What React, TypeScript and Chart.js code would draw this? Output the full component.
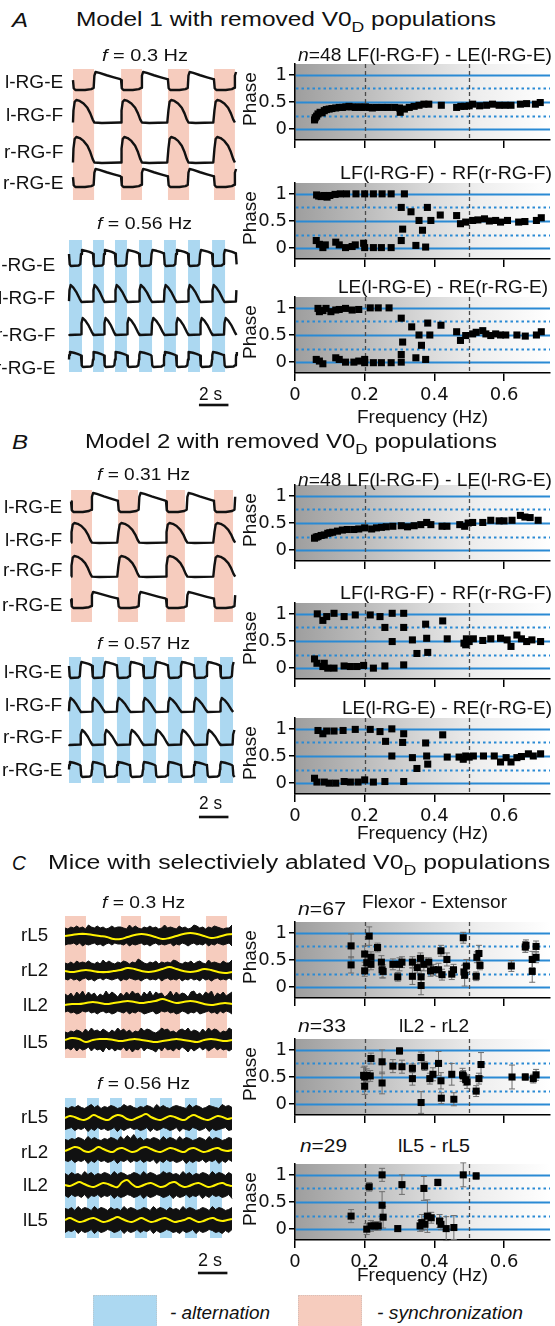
import React, { useEffect, useRef } from 'react';
import { Chart, registerables } from 'chart.js';

Chart.register(...registerables);

// ======================= DATA =======================
// phase-plot axes
const X_TICKS = [0, 0.2, 0.4, 0.6];
const Y_TICKS = [0, 0.5, 1];
const SOLID_LEVELS = [0, 0.5, 1];
const DOTTED_LEVELS = [0.25, 0.75];
const BOUNDARY_FREQS = [0.2, 0.5];
const FREQ_MAX = 0.732;
const PHASE_MIN = -0.2;
const PHASE_MAX = 1.2;

// ---- Panel A (Model 1), [frequency Hz, phase]
const A1_PTS = [[0.056,0.17],[0.058,0.21],[0.062,0.24],[0.066,0.28],[0.072,0.31],[0.078,0.3],[0.084,0.34],[0.09,0.36],[0.098,0.37],[0.106,0.38],[0.117,0.39],[0.127,0.4],[0.136,0.4],[0.146,0.41],[0.155,0.42],[0.164,0.41],[0.173,0.4],[0.183,0.41],[0.192,0.4],[0.202,0.41],[0.212,0.4],[0.222,0.39],[0.232,0.4],[0.25,0.4],[0.267,0.4],[0.286,0.4],[0.3,0.39],[0.302,0.31],[0.314,0.37],[0.328,0.4],[0.342,0.42],[0.356,0.44],[0.37,0.46],[0.384,0.46],[0.42,0.44],[0.464,0.4],[0.476,0.42],[0.487,0.42],[0.5,0.43],[0.51,0.46],[0.53,0.43],[0.55,0.44],[0.567,0.46],[0.586,0.44],[0.603,0.44],[0.62,0.44],[0.647,0.46],[0.665,0.47],[0.69,0.46],[0.704,0.49]];
const A2_PTS = [[0.062,0.98],[0.068,0.96],[0.075,0.95],[0.083,0.97],[0.092,0.94],[0.1,0.97],[0.115,0.99],[0.13,1.0],[0.148,1.0],[0.175,1.0],[0.2,1.0],[0.225,1.0],[0.25,1.0],[0.276,1.0],[0.314,1.0],
  [0.305,0.75],[0.309,0.35],[0.305,0.14],[0.333,0.67],[0.356,0.51],[0.347,0.05],[0.366,0.33],[0.38,0.75],[0.39,0.51],[0.375,0.02],[0.417,0.61],[0.464,0.6],[0.475,0.45],[0.49,0.48],[0.51,0.51],[0.525,0.52],[0.544,0.54],[0.558,0.5],[0.576,0.51],[0.59,0.48],[0.61,0.51],[0.642,0.48],[0.66,0.49],[0.693,0.51],[0.707,0.56],
  [0.061,0.14],[0.07,0.07],[0.08,0.01],[0.087,0.06],[0.117,0.11],[0.127,0.06],[0.145,0.01],[0.164,0.03],[0.173,0.06],[0.197,0.09],[0.2,0.01],[0.225,0.01],[0.248,0.01],[0.276,0.01]];
const A3_PTS = [[0.066,0.99],[0.07,0.93],[0.08,0.95],[0.089,0.99],[0.103,0.93],[0.117,0.96],[0.127,0.97],[0.145,0.99],[0.164,0.96],[0.183,0.97],[0.216,1.0],[0.239,1.0],[0.27,1.0],
  [0.305,0.81],[0.309,0.37],[0.305,0.14],[0.305,0.0],[0.335,0.65],[0.356,0.5],[0.347,0.08],[0.363,0.31],[0.381,0.72],[0.387,0.5],[0.375,0.05],[0.419,0.68],[0.464,0.56],[0.475,0.4],[0.49,0.49],[0.51,0.52],[0.52,0.55],[0.539,0.58],[0.548,0.52],[0.562,0.49],[0.576,0.52],[0.59,0.5],[0.605,0.5],[0.637,0.5],[0.661,0.48],[0.693,0.5],[0.707,0.56],
  [0.061,0.05],[0.07,0.02],[0.08,-0.03],[0.117,0.08],[0.127,0.05],[0.145,0.0],[0.169,0.0],[0.183,0.02],[0.2,0.05],[0.2,-0.01],[0.225,-0.01],[0.248,-0.01],[0.276,-0.01]];

// ---- Panel B (Model 2)
const B1_PTS = [[0.056,0.22],[0.061,0.24],[0.066,0.25],[0.075,0.27],[0.084,0.28],[0.094,0.31],[0.1,0.32],[0.108,0.33],[0.122,0.35],[0.136,0.37],[0.15,0.38],[0.169,0.38],[0.183,0.39],[0.2,0.41],[0.22,0.39],[0.234,0.41],[0.248,0.42],[0.262,0.43],[0.281,0.44],[0.305,0.45],[0.323,0.43],[0.342,0.45],[0.361,0.47],[0.378,0.51],[0.39,0.47],[0.422,0.44],[0.436,0.44],[0.473,0.47],[0.487,0.44],[0.497,0.5],[0.51,0.51],[0.539,0.51],[0.562,0.55],[0.586,0.54],[0.6,0.54],[0.623,0.55],[0.647,0.64],[0.66,0.61],[0.675,0.6],[0.698,0.55]];
const B2_PTS = [[0.064,1.0],[0.08,0.88],[0.091,0.95],[0.112,1.01],[0.141,0.95],[0.173,0.98],[0.216,0.98],[0.244,0.95],[0.279,1.01],[0.312,1.01],
  [0.258,0.75],[0.312,0.75],[0.279,0.49],[0.337,0.52],[0.35,0.27],[0.375,0.81],[0.378,0.55],[0.381,0.29],[0.424,0.87],[0.437,0.54],[0.485,0.46],[0.49,0.43],[0.492,0.54],[0.5,0.49],[0.512,0.54],[0.539,0.51],[0.562,0.54],[0.59,0.55],[0.609,0.52],[0.62,0.4],[0.637,0.61],[0.65,0.54],[0.665,0.49],[0.68,0.52],[0.705,0.49],
  [0.056,0.17],[0.063,0.09],[0.08,0.03],[0.084,0.09],[0.094,0.0],[0.112,0.0],[0.141,0.04],[0.159,0.03],[0.178,0.03],[0.197,0.05],[0.225,0.0],[0.258,0.04],[0.312,0.06]];
const B3_PTS = [[0.066,0.97],[0.08,0.91],[0.091,0.96],[0.112,0.96],[0.138,0.97],[0.173,0.99],[0.216,0.99],[0.244,0.95],[0.278,1.0],[0.312,0.91],
  [0.26,0.77],[0.309,0.75],[0.278,0.5],[0.337,0.47],[0.35,0.27],[0.375,0.74],[0.378,0.5],[0.381,0.35],[0.424,0.89],[0.437,0.48],[0.471,0.48],[0.483,0.44],[0.49,0.5],[0.5,0.48],[0.512,0.5],[0.541,0.5],[0.572,0.5],[0.59,0.39],[0.606,0.47],[0.62,0.39],[0.637,0.47],[0.65,0.49],[0.67,0.54],[0.684,0.5],[0.705,0.54],
  [0.056,0.09],[0.063,0.02],[0.084,0.02],[0.098,0.0],[0.117,0.0],[0.141,0.03],[0.159,0.02],[0.181,0.02],[0.2,0.06],[0.225,0.02],[0.258,0.03],[0.312,0.03]];

// ---- Panel C (mice), [frequency, phase, sd]
const C1_PTS = [[0.161,0.76,0.22],[0.161,0.41,0.15],[0.2,0.3,0.1],[0.2,0.61,0.15],[0.213,0.94,0.17],[0.206,0.45,0.15],[0.218,0.55,0.1],[0.218,0.42,0.1],[0.237,0.73,0.08],[0.248,0.46,0.12],[0.25,0.32,0.15],[0.253,0.29,0.12],[0.281,0.42,0.1],[0.295,0.19,0.08],[0.3,0.42,0.12],[0.307,0.46,0.1],[0.337,0.46,0.1],[0.337,0.2,0.15],[0.351,0.36,0.1],[0.36,0.53,0.1],[0.362,0.03,0.17],[0.362,0.19,0.12],[0.37,0.42,0.12],[0.384,0.46,0.08],[0.389,0.3,0.1],[0.398,0.32,0.1],[0.412,0.32,0.12],[0.419,0.67,0.1],[0.422,0.23,0.1],[0.436,0.51,0.12],[0.45,0.24,0.1],[0.455,0.32,0.1],[0.483,0.91,0.1],[0.485,0.28,0.12],[0.487,0.22,0.2],[0.492,0.39,0.12],[0.52,0.2,0.08],[0.522,0.55,0.1],[0.528,0.62,0.15],[0.531,0.4,0.08],[0.621,0.39,0.1],[0.661,0.74,0.1],[0.663,0.77,0.1],[0.681,0.51,0.15],[0.681,0.29,0.2],[0.692,0.75,0.1],[0.692,0.55,0.1]];
const C2_PTS = [[0.197,0.53,0.15],[0.206,0.53,0.12],[0.2,0.5,0.2],[0.2,0.33,0.15],[0.216,0.52,0.1],[0.218,0.84,0.1],[0.25,0.78,0.22],[0.25,0.39,0.2],[0.281,0.7,0.12],[0.3,0.98,0.06],[0.307,0.69,0.12],[0.337,0.66,0.08],[0.337,0.47,0.12],[0.362,0.86,0.1],[0.372,0.7,0.08],[0.362,0.03,0.2],[0.387,0.47,0.1],[0.396,0.55,0.12],[0.412,0.75,0.22],[0.419,0.43,0.15],[0.42,0.11,0.1],[0.45,0.55,0.2],[0.456,0.09,0.12],[0.481,0.54,0.12],[0.483,0.52,0.1],[0.49,0.45,0.1],[0.494,0.41,0.12],[0.52,0.24,0.1],[0.528,0.47,0.1],[0.534,0.73,0.22],[0.623,0.5,0.22],[0.661,0.5,0.06],[0.684,0.47,0.08],[0.692,0.54,0.1]];
const C3_PTS = [[0.161,0.24,0.12],[0.206,0.0,0.1],[0.213,0.78,0.08],[0.218,0.06,0.1],[0.229,0.06,0.08],[0.239,0.06,0.08],[0.25,1.0,0.12],[0.25,0.44,0.25],[0.253,0.22,0.2],[0.295,0.01,0.05],[0.307,0.82,0.18],[0.359,0.06,0.1],[0.364,0.12,0.15],[0.37,0.75,0.22],[0.373,0.09,0.1],[0.38,0.24,0.3],[0.391,0.21,0.1],[0.41,0.86,0.06],[0.415,0.15,0.12],[0.419,0.09,0.1],[0.434,0.01,0.22],[0.456,0.03,0.22],[0.483,1.0,0.22],[0.52,0.98,0.06]];

// ---- activity traces: band intervals (s) and one-cycle shapes [phase, level 0..1]
const A1_BANDS = [[0.88,2.31],[4.14,5.56],[7.32,8.75],[10.44,11.86]];
const A2_BANDS = [[0.61,1.49],[2.24,2.98],[3.73,4.54],[5.36,6.24],[7.05,7.86],[8.68,9.49],[10.31,11.19]];
const B1_BANDS = [[0.75,2.17],[3.93,5.29],[7.19,8.47],[10.44,11.73]];
const B2_BANDS = [[0.61,1.42],[2.17,2.98],[3.86,4.75],[5.63,6.51],[7.32,8.27],[9.08,9.97],[10.85,11.73]];
const C1_BANDS = [[0.34,1.76],[4.14,5.49],[6.78,8.14],[9.9,11.32]];
const C2_BANDS = [[0.34,1.08],[1.83,2.64],[3.39,4.2],[5.08,5.9],[6.78,7.59],[8.47,9.29],[10.17,10.98]];

const E_SYNC = [[0,0.55],[0.015,0.1],[0.05,0.0],[0.25,0.0],[0.38,0.05],[0.43,0.12],[0.445,0.8],[0.47,1.0],[0.55,0.95],[0.7,0.82],[0.85,0.7],[0.985,0.6]];
const F_SYNC = [[0,0.02],[0.01,0.55],[0.035,0.92],[0.07,1.0],[0.14,0.96],[0.22,0.85],[0.3,0.66],[0.36,0.42],[0.41,0.15],[0.445,0.02],[0.6,0.0],[0.985,0.02]];
const E_ALT_L = [[0,0.75],[0.03,0.1],[0.08,0.0],[0.4,0.03],[0.47,0.12],[0.5,0.75],[0.54,1.0],[0.7,0.95],[0.85,0.88],[0.97,0.8]];
const F_ALT_L = [[0,0.05],[0.02,0.7],[0.07,1.0],[0.18,0.85],[0.32,0.55],[0.44,0.2],[0.52,0.0],[0.98,0.03]];
const F_ALT_R = [[0,0.05],[0.02,0.0],[0.48,0.03],[0.5,0.05],[0.52,0.7],[0.57,1.0],[0.68,0.85],[0.82,0.55],[0.94,0.2]];
const E_ALT_R = [[0,0.5],[0.01,0.8],[0.04,1.0],[0.2,0.95],[0.35,0.88],[0.47,0.8],[0.5,0.75],[0.53,0.1],[0.58,0.0],[0.9,0.03],[0.97,0.12]];

// EMG envelopes (extra px above / below the trace core), and smoothed (yellow) offsets
const C1_UP = ['2132423153242312423321524213242312523214231254231324321225','2131423242131524213243132642132413232542132413421523214225','4251637263514273641526374516372645137263541673526471536246','2132431526342531426352413263542136452314536243152635413264'];
const C1_DN = ['3221314232132421312231423213242132321423124213231423123214','2313242132421312321423123242132314213231423132413242132313','2132431213242132431231423124321431213243124231432132413124','3241524315243614253415263415234625143524136253142531424353'];
const C1_YEL = [[0,1,2,2,1,0,-1,-3,-3,-1,1,2,1,-1,-3,-2,0,2,3,2,0,-2,-1,1,2],[0,-1,0,1,0,-1,-1,0,1,3,2,0,-1,0,2,4,2,0,-1,0,2,1,-1,-2,-1],[-1,0,0,1,2,1,0,1,2,3,2,1,2,3,5,3,1,2,3,2,0,-1,0,1,0],[0,2,1,-2,0,1,1,0,-1,0,1,0,-1,-2,-1,0,1,0,-1,-2,0,1,0,-1,0]];
const C2_UP = ['2132421352413243125342132431524213432152431243215342','2132431524213243152637241324315243152431243152431243','3142315241324315243124315243125342315241324315243142','3241524315243142315243124315243142315243124315243124'];
const C2_DN = ['3214231524132431524213243152431243152341243152432143','2314231524132431523142314231524132431524231423152413','2413241523142315243124315243124315243142315241324315','4231524315243124315243142315243124352431524312435241'];
const C2_YEL = [[0,2,1,-1,-2,0,3,1,-1,-2,1,3,2,-1,-2,0,2,4,1,-1,-2,0,2,1,-1,-2,1,3,1,-1,-2,0,2,1,-1,0],[-1,1,3,2,-1,-2,0,3,1,-1,-2,1,2,0,-2,-1,2,3,1,-1,-2,0,2,1,-1,-2,1,2,0,-2,-1,1,2,0,-1,0],[0,-1,1,3,1,-1,-2,0,2,1,-1,-2,3,5,1,-2,-1,1,2,0,-2,-1,2,3,0,-2,-1,1,2,0,-2,-1,1,2,0,-1],[0,2,0,-2,-1,1,2,0,-2,-1,1,3,1,-1,-2,0,2,0,-2,-1,1,2,0,-2,-1,0,2,0,-2,-1,1,2,0,-1,0,1]];
const SCALE_BAR_S = 2;

// ======================= STYLE / LAYOUT =======================
const FONT = '"Liberation Sans", Arial, Helvetica, sans-serif';
const TICK_FONT = { family: '"DejaVu Sans", sans-serif', size: 18 };
const BLUE = '#2a8ad4';
const BAND_BLUE = 'rgb(172,216,241)';
const BAND_PINK = 'rgb(246,204,190)';
const PX_PER_S = 14.75;
const TRACE_LEFT = 60;
const TRACE_W = 190;

let mctx: any = null;
function textWidth(s: string, size: number, italic: boolean) {
  if (!mctx) mctx = document.createElement('canvas').getContext('2d');
  mctx.font = `${italic ? 'italic ' : ''}${size}px ${FONT}`;
  return mctx.measureText(s).width;
}

function Txt({ segs, x, y, size, w, sx, right }: any) {
  const nat = segs.reduce((a: number, s: any) => a + textWidth(s.t, s.sub ? size * 0.72 : size, !!s.it), 0);
  const k = w ? w / nat : (sx || 1);
  const left = right ? x - nat * k : x;
  return (
    <div style={{ position: 'absolute', left, top: y - size * 0.5, fontFamily: FONT, fontSize: size, lineHeight: `${size}px`, whiteSpace: 'pre', transform: `scaleX(${k})`, transformOrigin: '0 50%', color: '#111' }}>
      {segs.map((s: any, i: number) => s.sub
        ? <span key={i} style={{ fontSize: size * 0.72, position: 'relative', top: size * 0.3 }}>{s.t}</span>
        : <span key={i} style={{ fontStyle: s.it ? 'italic' : 'normal' }}>{s.t}</span>)}
    </div>
  );
}

function ChartBox({ left, top, width, height, make }: any) {
  const ref = useRef<HTMLCanvasElement | null>(null);
  useEffect(() => {
    const chart = new Chart(ref.current as any, make());
    return () => chart.destroy();
  }, []);
  return <canvas ref={ref} width={width} height={height} style={{ position: 'absolute', left, top, width, height }} />;
}

// ---------- phase charts ----------
const phaseDeco = {
  id: 'phaseDeco',
  beforeDraw(chart: any) {
    const { ctx, chartArea: a } = chart;
    const g = ctx.createLinearGradient(a.left, 0, a.right, 0);
    g.addColorStop(0, '#9e9e9e');
    g.addColorStop(0.25, '#b9b9b9');
    g.addColorStop(0.5, '#d7d7d7');
    g.addColorStop(0.72, '#eeeeee');
    g.addColorStop(1, '#ffffff');
    ctx.save();
    ctx.fillStyle = g;
    ctx.fillRect(a.left, a.top, a.right - a.left, a.bottom - a.top);
    ctx.restore();
  },
  beforeDatasetsDraw(chart: any) {
    const { ctx, chartArea: a, scales: { x, y } } = chart;
    ctx.save();
    ctx.strokeStyle = BLUE;
    ctx.lineWidth = 1.8;
    SOLID_LEVELS.forEach((v) => {
      const py = Math.round(y.getPixelForValue(v)) + 0.5;
      ctx.beginPath(); ctx.moveTo(a.left + 1, py); ctx.lineTo(a.right, py); ctx.stroke();
    });
    ctx.setLineDash([2.5, 3]);
    ctx.lineWidth = 2;
    DOTTED_LEVELS.forEach((v) => {
      const py = Math.round(y.getPixelForValue(v)) + 0.5;
      ctx.beginPath(); ctx.moveTo(a.left + 1, py); ctx.lineTo(a.right, py); ctx.stroke();
    });
    ctx.strokeStyle = '#4a4a4a';
    ctx.lineWidth = 1.3;
    ctx.setLineDash([4, 3]);
    BOUNDARY_FREQS.forEach((f) => {
      const px = Math.round(x.getPixelForValue(f)) + 0.5;
      ctx.beginPath(); ctx.moveTo(px, a.top); ctx.lineTo(px, a.bottom); ctx.stroke();
    });
    ctx.setLineDash([]);
    ctx.strokeStyle = '#6d6d6d';
    ctx.lineWidth = 1;
    chart.data.datasets[0].data.forEach((d: any) => {
      if (!d.e) return;
      const px = x.getPixelForValue(d.x);
      const y1 = y.getPixelForValue(d.y + d.e);
      const y2 = y.getPixelForValue(d.y - d.e);
      ctx.beginPath();
      ctx.moveTo(px, y1); ctx.lineTo(px, y2);
      ctx.moveTo(px - 3, y1); ctx.lineTo(px + 3, y1);
      ctx.moveTo(px - 3, y2); ctx.lineTo(px + 3, y2);
      ctx.stroke();
    });
    ctx.restore();
  },
};

function phaseConfig(pts: number[][], labels: boolean) {
  return () => ({
    type: 'scatter',
    data: { datasets: [{ data: pts.map((p) => ({ x: p[0], y: p[1], e: p[2] || 0 })), pointStyle: 'rect', pointRadius: 5, backgroundColor: '#000', borderWidth: 0 }] },
    options: {
      responsive: false, animation: false, devicePixelRatio: 1, events: [],
      layout: { padding: 0 },
      plugins: { legend: { display: false }, tooltip: { enabled: false } },
      scales: {
        x: {
          type: 'linear', min: 0, max: FREQ_MAX,
          afterBuildTicks: (s: any) => { s.ticks = X_TICKS.map((v) => ({ value: v })); },
          ticks: { display: labels, font: TICK_FONT, color: '#111', padding: 4, maxRotation: 0, autoSkip: false, callback: (v: any) => String(v) },
          grid: { display: true, drawOnChartArea: false, drawTicks: true, tickLength: 8, color: '#000', lineWidth: 1.5 },
          border: { display: true, color: '#000', width: 1.5 },
          afterFit: (s: any) => { s.height = labels ? 32 : 10; s.paddingLeft = 0; s.paddingRight = 0; },
        },
        y: {
          type: 'linear', min: PHASE_MIN, max: PHASE_MAX,
          afterBuildTicks: (s: any) => { s.ticks = Y_TICKS.map((v) => ({ value: v })); },
          ticks: { font: TICK_FONT, color: '#111', padding: 2, callback: (v: any) => String(v) },
          grid: { display: true, drawOnChartArea: false, drawTicks: true, tickLength: 6, color: '#000', lineWidth: 1.5 },
          border: { display: true, color: '#000', width: 1.5 },
          afterFit: (s: any) => { s.width = 43; s.paddingTop = 0; s.paddingBottom = 0; },
        },
      },
    },
    plugins: [phaseDeco],
  });
}

// ---------- trace charts ----------
const bandDeco = {
  id: 'bandDeco',
  beforeDatasetsDraw(chart: any, _args: any, opts: any) {
    const { ctx, scales: { x, y } } = chart;
    ctx.save();
    ctx.fillStyle = opts.color;
    const y1 = y.getPixelForValue(opts.top);
    const y2 = y.getPixelForValue(opts.bottom);
    (opts.bands || []).forEach((b: number[]) => {
      const x1 = x.getPixelForValue(b[0]);
      const x2 = x.getPixelForValue(b[1]);
      ctx.fillRect(x1, y1, x2 - x1, y2 - y1);
    });
    ctx.restore();
  },
};

function tile(shape: number[][], bands: number[][], tStart: number, tEnd: number) {
  const starts = bands.map((b) => b[0]);
  const n = starts.length;
  const avg = (starts[n - 1] - starts[0]) / (n - 1);
  const cycles: number[][] = [[starts[0] - avg, avg]];
  for (let i = 0; i < n; i++) cycles.push([starts[i], i < n - 1 ? starts[i + 1] - starts[i] : avg]);
  let s = starts[n - 1] + avg;
  while (s < tEnd) { cycles.push([s, avg]); s += avg; }
  const out: { t: number; v: number }[] = [];
  cycles.forEach(([c0, L]) => shape.forEach(([ph, v]) => {
    const t = c0 + ph * L;
    if (t >= tStart - 1e-6 && t <= tEnd) out.push({ t, v });
  }));
  return out;
}

function evenly(vals: number[], tStart: number, tEnd: number) {
  return vals.map((v, i) => ({ t: tStart + ((tEnd - tStart) * i) / (vals.length - 1), v }));
}

function baseTraceOptions(p: any) {
  return {
    responsive: false, animation: false, devicePixelRatio: 1, events: [],
    layout: { padding: 0 },
    plugins: { legend: { display: false }, tooltip: { enabled: false }, bandDeco: { bands: p.bands, top: p.bandTop, bottom: p.bandBottom, color: p.color } },
    scales: {
      x: { type: 'linear', display: false, min: 0, max: TRACE_W / PX_PER_S },
      y: { type: 'linear', display: false, min: p.top, max: p.top + p.height, reverse: true },
    },
    elements: { point: { radius: 0 }, line: { tension: 0 } },
  };
}

function scaleBarSet(p: any) {
  return { data: [{ x: p.barT, y: p.barY }, { x: p.barT + SCALE_BAR_S, y: p.barY }], showLine: true, borderColor: '#111', borderWidth: 2.6, pointRadius: 0 };
}

function modelTraceConfig(p: any) {
  return () => {
    const datasets: any[] = p.traces.map((tr: any) => ({
      data: tile(tr.shape, p.bands, p.tStart, p.tEnd).map((d) => ({ x: d.t, y: tr.bottom - tr.amp * d.v })),
      showLine: true, borderColor: '#111', borderWidth: 2.4, pointRadius: 0, borderJoinStyle: 'round',
    }));
    if (p.barY) datasets.push(scaleBarSet(p));
    return { type: 'scatter', data: { datasets }, options: baseTraceOptions(p), plugins: [bandDeco] };
  };
}

function emgTraceConfig(p: any) {
  return () => {
    const datasets: any[] = [];
    p.centers.forEach((c: number, i: number) => {
      datasets.push({
        data: evenly(p.yel[i], p.tStart, p.tEnd).map((d) => ({ x: d.t, y: c - d.v })),
        showLine: true, borderColor: '#fff200', borderWidth: 2, pointRadius: 0, tension: 0.4,
      });
    });
    p.centers.forEach((c: number, i: number) => {
      const up = p.up[i].split('').map(Number);
      const dn = p.dn[i].split('').map(Number);
      datasets.push({
        data: evenly(up, p.tStart, p.tEnd).map((d) => ({ x: d.t, y: c - p.core - d.v })),
        showLine: true, borderColor: '#111', borderWidth: 1, pointRadius: 0, fill: '+1', backgroundColor: '#111',
      });
      datasets.push({
        data: evenly(dn, p.tStart, p.tEnd).map((d) => ({ x: d.t, y: c + p.core + d.v })),
        showLine: true, borderColor: '#111', borderWidth: 1, pointRadius: 0,
      });
    });
    if (p.barY) datasets.push(scaleBarSet(p));
    return { type: 'scatter', data: { datasets }, options: baseTraceOptions(p), plugins: [bandDeco] };
  };
}

const TRACE_PANELS = [
  { kind: 'model', top: 60, height: 150, bandTop: 69, bandBottom: 200, color: BAND_PINK, bands: A1_BANDS, tStart: 0.88, tEnd: 12.0,
    traces: [{ shape: E_SYNC, bottom: 90, amp: 18 }, { shape: F_SYNC, bottom: 123, amp: 23 }, { shape: F_SYNC, bottom: 163, amp: 26 }, { shape: E_SYNC, bottom: 187, amp: 18 }] },
  { kind: 'model', top: 230, height: 185, bandTop: 240, bandBottom: 372, color: BAND_BLUE, bands: A2_BANDS, tStart: 0.61, tEnd: 12.0, barT: 9.42, barY: 405,
    traces: [{ shape: E_ALT_L, bottom: 266, amp: 16 }, { shape: F_ALT_L, bottom: 302, amp: 17 }, { shape: F_ALT_R, bottom: 335, amp: 17 }, { shape: E_ALT_R, bottom: 367, amp: 15 }] },
  { kind: 'model', top: 480, height: 150, bandTop: 490, bandBottom: 622, color: BAND_PINK, bands: B1_BANDS, tStart: 0.75, tEnd: 11.93,
    traces: [{ shape: E_SYNC, bottom: 512, amp: 19 }, { shape: F_SYNC, bottom: 543, amp: 20 }, { shape: F_SYNC, bottom: 577, amp: 21 }, { shape: E_SYNC, bottom: 608, amp: 16 }] },
  { kind: 'model', top: 650, height: 175, bandTop: 657, bandBottom: 783, color: BAND_BLUE, bands: B2_BANDS, tStart: 0.61, tEnd: 11.93, barT: 9.42, barY: 817,
    traces: [{ shape: E_ALT_L, bottom: 678, amp: 16 }, { shape: F_ALT_L, bottom: 712, amp: 14 }, { shape: F_ALT_R, bottom: 745, amp: 15 }, { shape: E_ALT_R, bottom: 777, amp: 15 }] },
  { kind: 'emg', top: 905, height: 160, bandTop: 916, bandBottom: 1058, color: BAND_PINK, bands: C1_BANDS, tStart: 0.34, tEnd: 11.66,
    centers: [936, 971, 1004, 1040], core: 6, up: C1_UP, dn: C1_DN, yel: C1_YEL },
  { kind: 'emg', top: 1090, height: 190, bandTop: 1098, bandBottom: 1238, color: BAND_BLUE, bands: C2_BANDS, tStart: 0.34, tEnd: 11.66, barT: 9.35, barY: 1273,
    centers: [1118, 1150, 1185, 1220], core: 8.5, up: C2_UP, dn: C2_DN, yel: C2_YEL },
];

const PHASE_CHARTS = [
  { zero: 128, pts: A1_PTS, labels: false },
  { zero: 247, pts: A2_PTS, labels: false },
  { zero: 361, pts: A3_PTS, labels: true },
  { zero: 549, pts: B1_PTS, labels: false },
  { zero: 667, pts: B2_PTS, labels: false },
  { zero: 782, pts: B3_PTS, labels: true },
  { zero: 986, pts: C1_PTS, labels: false },
  { zero: 1103, pts: C2_PTS, labels: false },
  { zero: 1228, pts: C3_PTS, labels: true },
];

const S = (t: string, it = false, sub = false) => ({ t, it, sub });
const fLabel = (v: string) => [S('f', true), S(` = ${v} Hz`)];
const V0D = (pre: string) => [S(pre + ' V0'), S('D', false, true), S(' populations')];

const TEXTS: any[] = [
  { segs: [S('A', true)], x: 12, y: 20, size: 20, w: 16 },
  { segs: V0D('Model 1 with removed'), x: 76, y: 20, size: 19.5, w: 420 },
  { segs: fLabel('0.3'), x: 102, y: 55, size: 16.5, w: 86 },
  ...['l-RG-E', 'l-RG-F', 'r-RG-F', 'r-RG-E'].map((t, i) => ({ segs: [S(t)], x: 63, y: [82, 115, 152, 183][i], size: 18, sx: 1.06, right: true })),
  { segs: fLabel('0.56'), x: 97, y: 223, size: 16.5, w: 95 },
  ...['l-RG-E', 'l-RG-F', 'r-RG-F', 'r-RG-E'].map((t, i) => ({ segs: [S(t)], x: 55, y: [265, 298, 335, 368][i], size: 18, sx: 1.06, right: true })),
  { segs: [S('2 s')], x: 199, y: 394, size: 18, w: 23 },
  { segs: [S('n', true), S('=48 LF(l-RG-F) - LE(l-RG-E)')], x: 298, y: 55, size: 18.5, w: 254 },
  { segs: [S('LF(l-RG-F) - RF(r-RG-F)')], x: 340, y: 173, size: 18.5, w: 212 },
  { segs: [S('LE(l-RG-E) - RE(r-RG-E)')], x: 338, y: 287, size: 18.5, w: 210 },
  { segs: [S('Frequency (Hz)')], x: 357, y: 417, size: 18, w: 131 },

  { segs: [S('B', true)], x: 12, y: 442, size: 20, w: 16 },
  { segs: V0D('Model 2 with removed'), x: 85, y: 442, size: 19.5, w: 412 },
  { segs: fLabel('0.31'), x: 97, y: 474, size: 16.5, w: 93 },
  ...['l-RG-E', 'l-RG-F', 'r-RG-F', 'r-RG-E'].map((t, i) => ({ segs: [S(t)], x: 62, y: [507, 540, 570, 605][i], size: 18, sx: 1.06, right: true })),
  { segs: fLabel('0.57'), x: 97, y: 643, size: 16.5, w: 93 },
  ...['l-RG-E', 'l-RG-F', 'r-RG-F', 'r-RG-E'].map((t, i) => ({ segs: [S(t)], x: 62, y: [672, 705, 737, 770][i], size: 18, sx: 1.06, right: true })),
  { segs: [S('2 s')], x: 199, y: 803, size: 18, w: 23 },
  { segs: [S('n', true), S('=48 LF(l-RG-F) - LE(l-RG-E)')], x: 298, y: 480, size: 18.5, w: 254 },
  { segs: [S('LF(l-RG-F) - RF(r-RG-F)')], x: 340, y: 593, size: 18.5, w: 212 },
  { segs: [S('LE(l-RG-E) - RE(r-RG-E)')], x: 342, y: 708, size: 18.5, w: 210 },
  { segs: [S('Frequency (Hz)')], x: 357, y: 833, size: 18, w: 131 },

  { segs: [S('C', true)], x: 12, y: 863, size: 20, w: 14 },
  { segs: V0D('Mice with selectiviely ablated'), x: 48, y: 863, size: 19.5, w: 502 },
  { segs: fLabel('0.3'), x: 102, y: 902, size: 16.5, w: 83 },
  ...['rL5', 'rL2', 'lL2', 'lL5'].map((t, i) => ({ segs: [S(t)], x: 48, y: [935, 970, 1005, 1042][i], size: 18, sx: 1.04, right: true })),
  { segs: fLabel('0.56'), x: 97, y: 1083, size: 16.5, w: 93 },
  ...['rL5', 'rL2', 'lL2', 'lL5'].map((t, i) => ({ segs: [S(t)], x: 48, y: [1117, 1152, 1185, 1220][i], size: 18, sx: 1.04, right: true })),
  { segs: [S('2 s')], x: 198, y: 1260, size: 18, w: 24 },
  { segs: [S('n', true), S('=67')], x: 298, y: 909, size: 18.5, w: 48 },
  { segs: [S('Flexor - Extensor')], x: 362, y: 902, size: 18.5, w: 145 },
  { segs: [S('n', true), S('=33')], x: 298, y: 1026, size: 18.5, w: 48 },
  { segs: [S('lL2 - rL2')], x: 399, y: 1026, size: 18.5, w: 70 },
  { segs: [S('n', true), S('=29')], x: 300, y: 1146, size: 18.5, w: 47 },
  { segs: [S('lL5 - rL5')], x: 398, y: 1146, size: 18.5, w: 72 },
  { segs: [S('Frequency (Hz)')], x: 357, y: 1275, size: 18, w: 131 },

  { segs: [S('- alternation', true)], x: 170, y: 1313, size: 18, w: 100 },
  { segs: [S('- synchronization', true)], x: 377, y: 1313, size: 18, w: 146 },
];

export default function App() {
  return (
    <div style={{ position: 'absolute', left: 0, top: 0, width: 555, height: 1326, overflow: 'hidden', background: '#fff' }}>
      {TRACE_PANELS.map((p, i) => (
        <ChartBox key={'t' + i} left={TRACE_LEFT} top={p.top} width={TRACE_W} height={p.height}
          make={p.kind === 'model' ? modelTraceConfig(p) : emgTraceConfig(p)} />
      ))}
      {PHASE_CHARTS.map((c, i) => (
        <ChartBox key={'p' + i} left={252} top={c.zero - 69} width={303} height={81 + (c.labels ? 32 : 10)}
          make={phaseConfig(c.pts, c.labels)} />
      ))}
      {PHASE_CHARTS.map((c, i) => (
        <div key={'ph' + i} style={{ position: 'absolute', left: 249, top: c.zero - 29, transform: 'translate(-50%, -50%) rotate(-90deg)', fontFamily: FONT, fontSize: 19, lineHeight: '19px', color: '#111', whiteSpace: 'nowrap' }}>Phase</div>
      ))}
      <div style={{ position: 'absolute', left: 93, top: 1295, width: 64, height: 40, background: BAND_BLUE, border: '1px dotted #b8c8d0', boxSizing: 'border-box' }} />
      <div style={{ position: 'absolute', left: 298, top: 1295, width: 64, height: 40, background: BAND_PINK, border: '1px dotted #d8c0b8', boxSizing: 'border-box' }} />
      {TEXTS.map((t, i) => <Txt key={'x' + i} {...t} />)}
    </div>
  );
}
